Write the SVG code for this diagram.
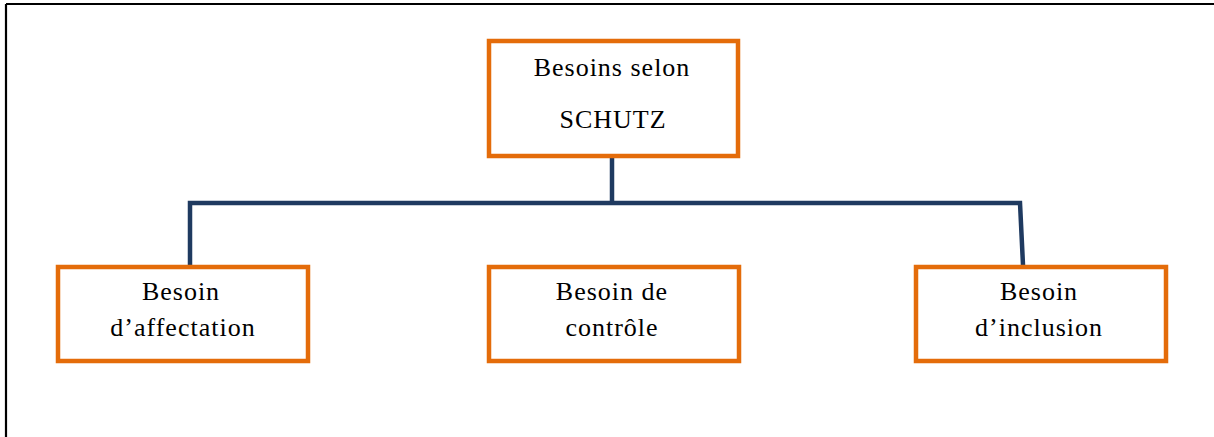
<svg xmlns="http://www.w3.org/2000/svg" width="1214" height="437" viewBox="0 0 1214 437">
<style>
.box{fill:#fff;stroke:#E46C0A;stroke-width:4.5}
.t{font-family:"Liberation Serif","Times New Roman",serif;font-size:26px;fill:#000;text-anchor:middle;letter-spacing:1px}
.c{fill:none;stroke:#1F3A60;stroke-width:4.5;stroke-linejoin:miter}
</style>
<rect x="0" y="0" width="1214" height="437" fill="#fff"/>
<g id="frame"><path d="M6 4 H1214 M6 4 V437" fill="none" stroke="#000" stroke-width="2.2"/></g>
<g id="connectors">
<path class="c" d="M612 157 V203"/>
<path class="c" d="M190 265 V203 H1020 L1023 265"/>
</g>
<g id="root"><rect class="box" x="489" y="41" width="249" height="115"/><text class="t" x="612" y="76">Besoins selon</text><text class="t" x="613" y="128">SCHUTZ</text></g>
<g id="affectation"><rect class="box" x="58" y="267" width="250" height="94"/><text class="t" x="181" y="300">Besoin</text><text class="t" x="183" y="336">d’affectation</text></g>
<g id="controle"><rect class="box" x="489" y="267" width="250" height="94"/><text class="t" x="612" y="300">Besoin de</text><text class="t" x="612" y="336">contrôle</text></g>
<g id="inclusion"><rect class="box" x="916" y="267" width="250" height="94"/><text class="t" x="1039" y="300">Besoin</text><text class="t" x="1039" y="336">d’inclusion</text></g>
</svg>
